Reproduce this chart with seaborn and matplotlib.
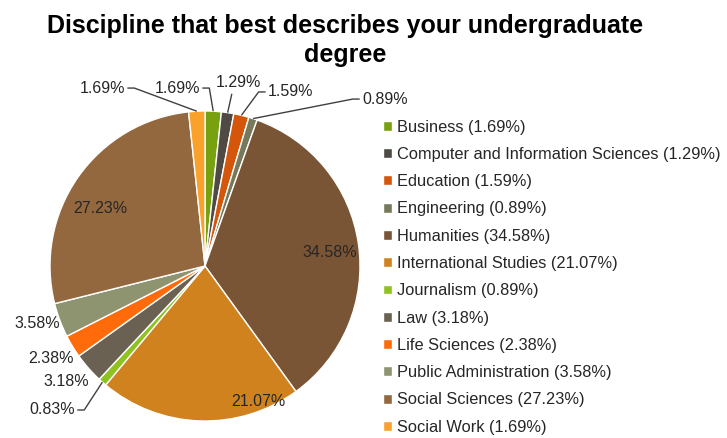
import numpy as np
import matplotlib
matplotlib.use("Agg")
import matplotlib.pyplot as plt
import seaborn as sns

# data
disciplines = ["Business", "Computer and Information Sciences", "Education",
               "Engineering", "Humanities", "International Studies", "Journalism",
               "Law", "Life Sciences", "Public Administration", "Social Sciences",
               "Social Work"]
shares = [1.69, 1.29, 1.59, 0.89, 34.58, 21.07, 0.89, 3.18, 2.38, 3.58, 27.23, 1.69]
# percentages as printed on the slices (Journalism reads 0.83% on the slice)
slice_text = ["1.69%", "1.29%", "1.59%", "0.89%", "34.58%", "21.07%", "0.83%",
              "3.18%", "2.38%", "3.58%", "27.23%", "1.69%"]

colors = ["#77a10e", "#4f4a44", "#d4560a", "#77795a", "#7a5535", "#d0821e",
          "#8dc21f", "#6b6152", "#ff6a0a", "#8e9470", "#93683f", "#f9a12b"]

sns.set_theme(style="white")
plt.rcParams['font.family'] = ['Liberation Sans', 'DejaVu Sans']

fig = plt.figure(figsize=(7.27, 4.38), dpi=100)
ax = fig.add_axes([0, 0, 1, 1])

wedges, _ = ax.pie(shares, colors=sns.color_palette(colors), startangle=90,
                   counterclock=False,
                   wedgeprops=dict(edgecolor="white", linewidth=1.0))

# pixel -> data mapping: centre at (205, 266), radius 155 px
ax.set_xlim(-205 / 155, (727 - 205) / 155)
ax.set_ylim((266 - 438) / 155, 266 / 155)
ax.set_aspect("auto")
ax.axis("off")

# label placement (x, y, ha, leader)
label_layout = [
    (-0.032, 1.148, "right", True),   # Business
    (0.213, 1.181, "center", True),   # Computer
    (0.406, 1.123, "left", True),     # Education
    (1.013, 1.077, "left", True),     # Engineering
    (0.806, 0.090, "center", False),  # Humanities
    (0.342, -0.871, "center", False), # International
    (-0.839, -0.929, "right", True),  # Journalism
    (-0.897, -0.748, "center", False),# Law
    (-0.994, -0.594, "center", False),# Life Sciences
    (-1.084, -0.374, "center", False),# Public Admin
    (-0.677, 0.374, "center", False), # Social Sciences
    (-0.516, 1.148, "right", True),   # Social Work
]

for w, txt, (x, y, ha, lead) in zip(wedges, slice_text, label_layout):
    ax.text(x, y, txt, ha=ha, va="center", fontsize=11.5, color="#262626")
    if lead:
        ang = np.deg2rad((w.theta1 + w.theta2) / 2)
        px, py = np.cos(ang), np.sin(ang)
        if ha == "right":
            xs = [px, x + 0.06, x + 0.015]
            ys = [py, y, y]
        elif ha == "left":
            xs = [px, x - 0.06, x - 0.015]
            ys = [py, y, y]
        else:
            xs = [px, x - 0.04]
            ys = [py, y - 0.07]
        ax.plot(xs, ys, color="#404040", lw=1.0, solid_capstyle="butt")

fig.text(0.475, 0.967, "Discipline that best describes your undergraduate\ndegree",
         ha="center", va="top", fontsize=18, fontweight="bold", color="black",
         linespacing=1.25)

leg_labels = [f"{d} ({s:.2f}%)" for d, s in zip(disciplines, shares)]
ax.legend(wedges, leg_labels, loc="upper left", bbox_to_anchor=(0.518, 0.742),
          frameon=False, fontsize=11.8, handlelength=0.55, handleheight=0.55,
          handletextpad=0.3, labelspacing=0.75, borderaxespad=0,
          labelcolor="#262626")

fig.savefig("out.png", dpi=100)
